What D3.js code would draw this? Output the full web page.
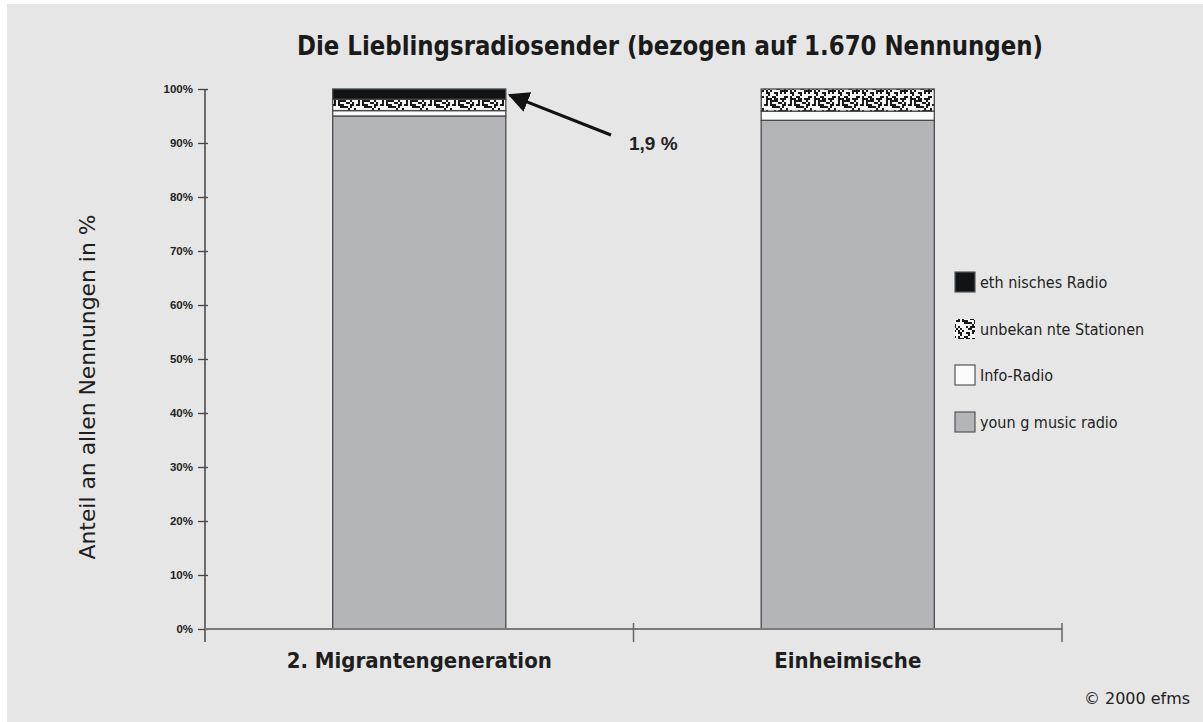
<!DOCTYPE html>
<html>
<head>
<meta charset="utf-8">
<script src="https://cdn.jsdelivr.net/npm/d3@7"></script>
<style>
  html, body { margin: 0; padding: 0; background: #ffffff; }
  svg { display: block; }
  .narrow { font-family: "Liberation Sans Narrow", "DejaVu Sans Condensed", "Liberation Sans", sans-serif; }
</style>
</head>
<body>
<div id="plot"></div>
<script>
// chart data
let categories = ['2. Migrantengeneration', 'Einheimische'];
let seriesNames = ['young music radio', 'Info-Radio', 'unbekannte Stationen', 'ethnisches Radio'];
let youngMusic = [95.0, 94.2];
let infoRadio = [1.0, 1.7];
let unknownStations = [2.1, 4.1];
let ethnicRadio = [1.9, 0.0];
let yTicks = [0, 10, 20, 30, 40, 50, 60, 70, 80, 90, 100];
let legendOrder = ['ethnisches Radio', 'unbekannte Stationen', 'Info-Radio', 'young music radio'];
let legendLabels = ['eth nisches Radio', 'unbekan nte Stationen', 'Info-Radio', 'youn g music radio'];

let svgWidth = 1203;
let svgHeight = 722;

let $svg = d3.select('#plot')
    .append('svg')
    .attr('width', svgWidth)
    .attr('height', svgHeight);

// grey panel
$svg.append('rect')
    .attr('x', 7).attr('y', 4)
    .attr('width', svgWidth - 7).attr('height', svgHeight - 4)
    .attr('fill', '#e6e6e6');

// speckled texture for "unbekannte Stationen" (fixed dither, not data)
let defs = $svg.append('defs');
let pat = defs.append('pattern')
    .attr('id', 'speckle')
    .attr('patternUnits', 'userSpaceOnUse')
    .attr('width', 24).attr('height', 24);
pat.append('rect').attr('width', 24).attr('height', 24).attr('fill', '#f4f4f4');
let seed = 7;
function lcg() { seed = (seed * 1103515245 + 12345) % 2147483648; return seed / 2147483648; }
for (let i = 0; i < 12; i++) {
    for (let j = 0; j < 12; j++) {
        if (lcg() < 0.45) {
            pat.append('rect')
                .attr('x', i * 2).attr('y', j * 2)
                .attr('width', 2).attr('height', 2)
                .attr('fill', '#1a1a1a');
        }
    }
}

let fills = {
    'young music radio': '#b4b5b9',
    'Info-Radio': '#fbfbfb',
    'unbekannte Stationen': 'url(#speckle)',
    'ethnisches Radio': '#111417'
};

// scales
let xBand = d3.scaleBand()
    .domain(categories)
    .range([205, 1062])
    .padding(0);

let yScale = d3.scaleLinear()
    .domain([0, 100])
    .range([629, 89]);

// stacked data
let table = categories.map((c, i) => ({
    category: c,
    'young music radio': youngMusic[i],
    'Info-Radio': infoRadio[i],
    'unbekannte Stationen': unknownStations[i],
    'ethnisches Radio': ethnicRadio[i]
}));
let stacked = d3.stack().keys(seriesNames)(table);

let barWidth = xBand.bandwidth() * 0.404;

stacked.forEach(layer => {
    $svg.append('g')
        .selectAll('rect')
        .data(layer.filter(d => d[1] - d[0] > 0))
        .enter()
        .append('rect')
        .attr('x', d => xBand(d.data.category) + xBand.bandwidth() / 2 - barWidth / 2)
        .attr('y', d => yScale(d[1]))
        .attr('width', barWidth)
        .attr('height', d => yScale(d[0]) - yScale(d[1]))
        .attr('fill', fills[layer.key])
        .attr('stroke', '#4a4a4a')
        .attr('stroke-width', 1.3);
});

// y axis
let leftAxis = d3.axisLeft(yScale)
    .tickValues(yTicks)
    .tickSize(0)
    .tickPadding(12)
    .tickFormat(d => d + '%');

let $yAxis = $svg.append('g')
    .attr('transform', 'translate(205, 0)')
    .call(leftAxis);
$yAxis.select('.domain').remove();
$yAxis.selectAll('text')
    .attr('font-family', 'Liberation Sans, Arial, sans-serif')
    .attr('font-size', 11.5)
    .attr('font-weight', 'bold')
    .attr('fill', '#222');
$yAxis.append('line')
    .attr('x1', 0).attr('x2', 0)
    .attr('y1', yScale(100)).attr('y2', 642)
    .attr('stroke', '#444').attr('stroke-width', 1.5);
$yAxis.selectAll('.tick').append('line')
    .attr('x1', -7).attr('x2', 3)
    .attr('stroke', '#444').attr('stroke-width', 1.3);

// x axis
let xBoundaries = [xBand.range()[0], xBand(categories[1]), xBand.range()[1]];
$svg.append('line')
    .attr('x1', 205).attr('x2', 1062)
    .attr('y1', yScale(0)).attr('y2', yScale(0))
    .attr('stroke', '#7a7a7a').attr('stroke-width', 2);
$svg.selectAll('.xtick')
    .data(xBoundaries.slice(1))
    .enter()
    .append('line')
    .attr('class', 'xtick')
    .attr('x1', d => d).attr('x2', d => d)
    .attr('y1', 623).attr('y2', 642)
    .attr('stroke', '#666').attr('stroke-width', 1.5);

$svg.selectAll('.xlabel')
    .data(categories)
    .enter()
    .append('text')
    .attr('class', 'xlabel narrow')
    .attr('x', d => xBand(d) + xBand.bandwidth() / 2)
    .attr('y', 668)
    .attr('text-anchor', 'middle')
    .attr('font-size', 22)
    .attr('font-weight', 'bold')
    .attr('fill', '#1e1e1e')
    .text(d => d);

// title
$svg.append('text')
    .attr('class', 'narrow')
    .attr('x', 670)
    .attr('y', 55)
    .attr('text-anchor', 'middle')
    .attr('font-size', 27)
    .attr('font-weight', 'bold')
    .attr('fill', '#1a1a1a')
    .attr('textLength', 746)
    .attr('lengthAdjust', 'spacingAndGlyphs')
    .text('Die Lieblingsradiosender (bezogen auf 1.670 Nennungen)');

// y axis title
$svg.append('text')
    .attr('class', 'narrow')
    .attr('transform', 'translate(95, 387) rotate(-90)')
    .attr('text-anchor', 'middle')
    .attr('font-size', 21)
    .attr('fill', '#1e1e1e')
    .attr('textLength', 345)
    .attr('lengthAdjust', 'spacingAndGlyphs')
    .text('Anteil an allen Nennungen in %');

// annotation arrow to ethnic segment
let ethTop = yScale(100 - ethnicRadio[0] / 2);
let barRight = xBand(categories[0]) + xBand.bandwidth() / 2 + barWidth / 2;
defs.append('marker')
    .attr('id', 'arrowhead')
    .attr('viewBox', '0 0 10 10')
    .attr('refX', 9).attr('refY', 5)
    .attr('markerWidth', 7).attr('markerHeight', 7)
    .attr('markerUnits', 'strokeWidth')
    .attr('orient', 'auto')
    .append('path')
    .attr('d', 'M0,0 L10,5 L0,10 z')
    .attr('fill', '#111');
$svg.append('line')
    .attr('x1', 611).attr('y1', 135)
    .attr('x2', barRight + 4).attr('y2', ethTop + 1)
    .attr('stroke', '#111')
    .attr('stroke-width', 3)
    .attr('marker-end', 'url(#arrowhead)');
$svg.append('text')
    .attr('x', 629)
    .attr('y', 150)
    .attr('font-family', 'Liberation Sans, Arial, sans-serif')
    .attr('font-size', 19)
    .attr('font-weight', 'bold')
    .attr('fill', '#222')
    .text(String(ethnicRadio[0]).replace('.', ',') + ' %');

// legend
let legendY = [272, 319, 365, 412];
let $legend = $svg.append('g');
legendOrder.forEach((key, i) => {
    $legend.append('rect')
        .attr('x', 955).attr('y', legendY[i])
        .attr('width', 20).attr('height', 20)
        .attr('fill', fills[key])
        .attr('stroke', key === 'unbekannte Stationen' ? 'none' : '#555')
        .attr('stroke-width', 1.2);
    $legend.append('text')
        .attr('class', 'narrow')
        .attr('x', 980)
        .attr('y', legendY[i] + 16)
        .attr('font-size', 16)
        .attr('fill', '#222')
        .text(legendLabels[i]);
});

// copyright
$svg.append('text')
    .attr('class', 'narrow')
    .attr('x', 1190)
    .attr('y', 704)
    .attr('text-anchor', 'end')
    .attr('font-size', 15)
    .attr('fill', '#222')
    .attr('textLength', 106)
    .attr('lengthAdjust', 'spacingAndGlyphs')
    .text('© 2000 efms');
</script>
</body>
</html>
